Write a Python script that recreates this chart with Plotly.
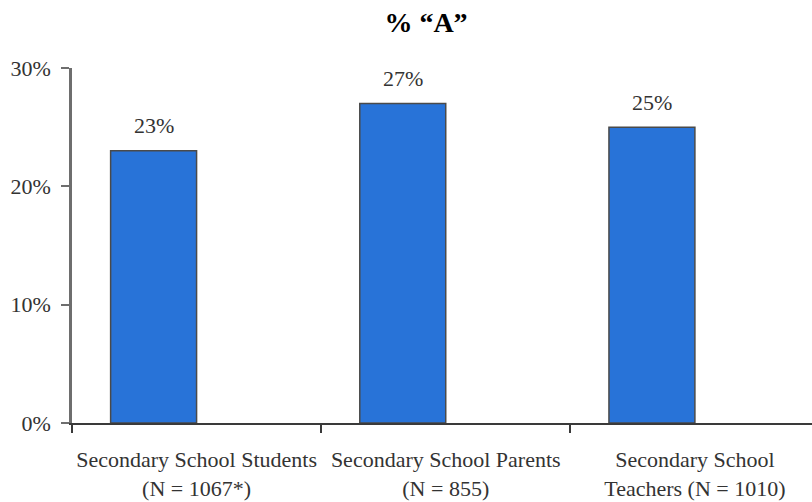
import plotly.graph_objects as go

# Survey groups and share of "A" responses (percent)
categories = [
    "Secondary School Students<br>(N = 1067*)",
    "Secondary School Parents<br>(N = 855)",
    "Secondary School<br>Teachers (N = 1010)",
]
values = [23, 27, 25]
y_ticks = [0, 10, 20, 30]
y_tick_labels = ["0%", "10%", "20%", "30%"]

BAR_W = 0.345
SERIF = "Liberation Serif, Times New Roman, serif"

fig = go.Figure()
fig.add_trace(go.Bar(
    x=categories,
    y=values,
    width=BAR_W,
    offset=-BAR_W,
    marker=dict(color="#2873d8", line=dict(color="#4a4a4a", width=1.5)),
    hoverinfo="x+y",
))

# value labels above each bar
for i, v in enumerate(values):
    fig.add_annotation(
        x=i - BAR_W / 2, y=v, xref="x", yref="y",
        text=f"{v}%", showarrow=False,
        yanchor="middle", yshift=25,
        font=dict(family=SERIF, size=22, color="#333333"),
    )

fig.update_layout(
    width=812, height=502,
    margin=dict(l=72, r=0, t=68, b=79),
    paper_bgcolor="white", plot_bgcolor="white",
    showlegend=False,
    title=dict(
        text="<b>% \u201cA\u201d</b>",
        x=426 / 812, xref="container", xanchor="center",
        y=1 - 22 / 502, yref="container", yanchor="middle",
        font=dict(family=SERIF, size=28, color="#000000"),
    ),
)

fig.update_xaxes(
    type="category",
    range=[-0.5, 2.47],
    automargin=False,
    tickangle=0,
    ticklabelstandoff=16,
    showline=True, linecolor="#3a3a3a", linewidth=2,
    ticks="outside", tickson="boundaries", ticklen=8, tickwidth=2, tickcolor="#3a3a3a",
    showgrid=False, zeroline=False,
    tickfont=dict(family=SERIF, size=22, color="#333333"),
)
fig.update_yaxes(
    range=[0, 30],
    automargin=False,
    tickvals=y_ticks, ticktext=y_tick_labels,
    showline=True, linecolor="#6e6e6e", linewidth=2.5,
    ticks="outside", ticklen=8, tickwidth=2, tickcolor="#6e6e6e",
    showgrid=False, zeroline=False,
    ticklabelstandoff=6,
    tickfont=dict(family=SERIF, size=22, color="#333333"),
)

fig.write_html("out.html")
